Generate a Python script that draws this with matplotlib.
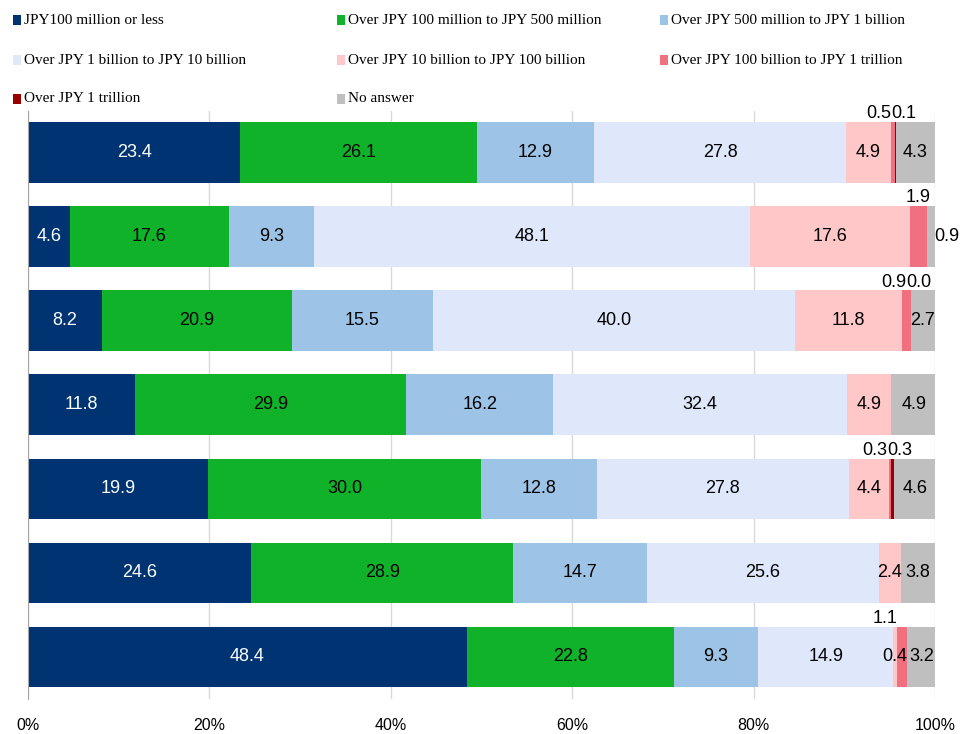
import matplotlib
matplotlib.use("Agg")
import matplotlib.pyplot as plt
from matplotlib.patches import Rectangle
import numpy as np

series_names = [
    "JPY100 million or less",
    "Over JPY 100 million to JPY 500 million",
    "Over JPY 500 million to JPY 1 billion",
    "Over JPY 1 billion to JPY 10 billion",
    "Over JPY 10 billion to JPY 100 billion",
    "Over JPY 100 billion to JPY 1 trillion",
    "Over JPY 1 trillion",
    "No answer",
]
colors = ["#003372", "#10b22a", "#9dc3e6", "#dfe8fb", "#ffc7c7", "#f07080", "#990000", "#bfbfbf"]

# rows from top to bottom; columns follow series_names
row1 = [23.4, 26.1, 12.9, 27.8, 4.9, 0.5, 0.1, 4.3]
row2 = [4.6, 17.6, 9.3, 48.1, 17.6, 1.9, 0.0, 0.9]
row3 = [8.2, 20.9, 15.5, 40.0, 11.8, 0.9, 0.0, 2.7]
row4 = [11.8, 29.9, 16.2, 32.4, 4.9, 0.0, 0.0, 4.9]
row5 = [19.9, 30.0, 12.8, 27.8, 4.4, 0.3, 0.3, 4.6]
row6 = [24.6, 28.9, 14.7, 25.6, 2.4, 0.0, 0.0, 3.8]
row7 = [48.4, 22.8, 9.3, 14.9, 0.4, 1.1, 0.0, 3.2]
rows = [row1, row2, row3, row4, row5, row6, row7]

# label placement per (row, series): 'in' inside, 'up' above centred,
# 'upL' above ending at the segment's right edge, 'upR' above starting at its left edge,
# 'upShift' above and shifted left, 'right' right of bar, None hidden
placement = {
    (0, 5): "upL", (0, 6): "upR",
    (1, 5): "up", (1, 7): "right", (1, 6): None,
    (2, 5): "upL", (2, 6): "upR",
    (3, 5): None, (3, 6): None,
    (4, 5): "upL", (4, 6): "upR",
    (5, 5): None, (5, 6): None,
    (6, 5): "upShift", (6, 6): None,
}

W, H = 961, 734
fig = plt.figure(figsize=(W / 100, H / 100), dpi=100)
ax = fig.add_axes([28 / W, 1 - 699 / H, (935 - 28) / W, (699 - 110.5) / H])

data = np.array(rows)
y = np.arange(len(rows))
bh = 0.72
left = np.zeros(len(rows))
for j, name in enumerate(series_names):
    vals = data[:, j]
    ax.barh(y, vals, left=left, height=bh, color=colors[j], label=name, zorder=2, linewidth=0)
    for i in range(len(rows)):
        v = vals[i]
        c = left[i] + v / 2
        mode = placement.get((i, j), "in")
        if mode is None:
            continue
        txt = f"{v:.1f}"
        tc = "white" if j == 0 else "black"
        kw = dict(fontsize=13, family=["Liberation Sans", "DejaVu Sans"], clip_on=False, zorder=5)
        yu = y[i] - bh / 2 - 0.1
        if mode == "in":
            ax.text(c, y[i], txt, ha="center", va="center", color=tc, **kw)
        elif mode == "up":
            ax.text(c, yu, txt, ha="center", va="center", color="black", **kw)
        elif mode == "upShift":
            ax.text(c - 1.9, yu, txt, ha="center", va="center", color="black", **kw)
        elif mode == "upL":
            ax.text(left[i] + v - 0.45, yu, txt, ha="right", va="center", color="black", **kw)
        elif mode == "upR":
            ax.text(left[i] - 0.45, yu, txt, ha="left", va="center", color="black", **kw)
        elif mode == "right":
            ax.text(99.95, y[i], txt, ha="left", va="center", color="black", **kw)
    left = left + vals

ax.set_xlim(0, 100)
ax.set_ylim(len(rows) - 0.5, -0.5)
ax.set_xticks(np.arange(0, 101, 20))
ax.set_xticklabels([f"{t}%" for t in range(0, 101, 20)],
                   fontsize=11.5, family=["Liberation Sans", "DejaVu Sans"])
ax.tick_params(axis="x", length=0, pad=14)
ax.set_yticks([])
ax.grid(axis="x", color="#d9d9d9", linewidth=1, zorder=0)
ax.set_axisbelow(True)
for s in ["top", "right", "bottom"]:
    ax.spines[s].set_visible(False)
ax.spines["left"].set_color("#a6a6a6")
ax.spines["left"].set_zorder(3)

# legend laid out in reading order (3 per row)
col_x = [13, 337, 660]
row_y = [20, 60, 99]
for k, name in enumerate(series_names):
    r, cidx = divmod(k, 3)
    x0 = col_x[cidx]
    yc = row_y[r]
    fig.add_artist(Rectangle((x0 / W, 1 - (yc + 4.5) / H), 8 / W, 9 / H,
                             transform=fig.transFigure, color=colors[k], linewidth=0))
    fig.text((x0 + 11) / W, 1 - yc / H, name, ha="left", va="center",
             fontsize=11, family=["Liberation Serif", "DejaVu Serif"])

fig.savefig("out.png", dpi=100)
